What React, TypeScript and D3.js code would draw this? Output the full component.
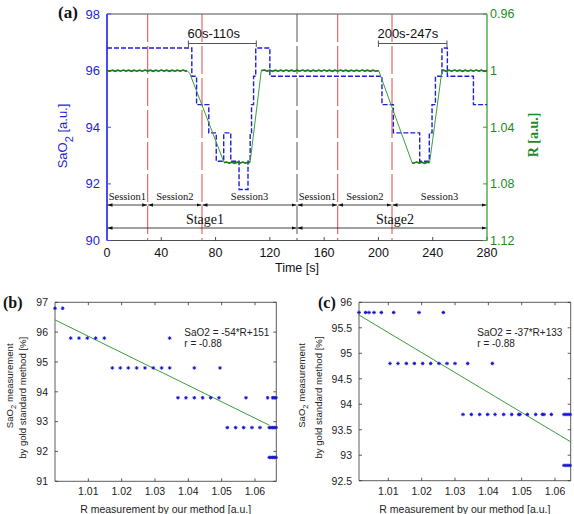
import React from "react";
import * as d3 from "d3";

// ---------- Panel (a) data ----------
const timeTicks = [0, 40, 80, 120, 160, 200, 240, 280];
const saoTicks = [90, 92, 94, 96, 98];
const rTicks = [0.96, 1.0, 1.04, 1.08, 1.12];
const rTickLabels = ["0.96", "1", "1.04", "1.08", "1.12"];

// SaO2 gold standard (step, value holds from t until next t)
const saoSteps: [number, number][] = [
  [0, 96.8], [62.5, 95.8], [66, 94.8], [75, 93.8], [80.5, 92.8], [86, 93.8],
  [91.2, 92.8], [97.3, 91.8], [103.9, 92.8], [105.5, 93.8], [106.5, 94.8],
  [108, 95.8], [109.6, 96.8], [120, 95.8], [202.6, 94.8], [211, 93.8],
  [230.4, 92.8], [237.5, 93.8], [239.5, 94.8], [242, 95.8], [246.8, 96.8],
  [250.8, 95.8], [270, 94.8], [280, 94.8],
];

// R measured by our method: knee points
const rKnots: [number, number][] = [
  [0, 1.0], [59, 1.0], [61, 1.002], [86.3, 1.065], [105.4, 1.065], [113.7, 1.0],
  [200.2, 1.0], [224.8, 1.065], [237.7, 1.065], [246.8, 1.0], [280, 1.0],
];
// small ripple on the flat parts, x1e-4, every 2 s from 0 to 280 s
const rRipple = [
  0, 4, -3, 5, -3, 4, -4, 3, -3, 5, -3, 4, -3, 4, -4, 3, -3, 5, -3, 4, -4, 3, -3, 5, -3, 4, -3, 4, -4, 3,
  -3, 5, -3, 4, -3, 4, -4, 3, -3, 5, -3, 4, -3, 4, -4, 3, -3, 5, -3, 4, -4, 3, -3, 5, -3, 4, -3, 4, -4, 3,
  -3, 5, -3, 4, -3, 4, -4, 3, -3, 5, -3, 4, -4, 3, -3, 5, -3, 4, -3, 4, -4, 3, -3, 5, -3, 4, -4, 3, -3, 5,
  -3, 4, -3, 4, -4, 3, -3, 5, -3, 4, -4, 3, -3, 5, -3, 4, -3, 4, -4, 3, -3, 5, -3, 4, -4, 3, -3, 5, -3, 4,
  -3, 4, -4, 3, -3, 5, -3, 4, -4, 3, -3, 5, -3, 4, -3, 4, -4, 3, -3, 5, 0,
];

const boundaryTimes = [30, 70, 140, 170, 210];
const boundaryKinds = ["session", "session", "stage", "session", "session"];

const sessionLabels = ["Session1", "Session2", "Session3", "Session1", "Session2", "Session3"];
const sessionStarts = [0, 30, 70, 140, 170, 210];
const sessionEnds = [30, 70, 140, 170, 210, 280];
const stageLabels = ["Stage1", "Stage2"];
const stageStarts = [0, 140];
const stageEnds = [140, 280];

const windowLabels = ["60s-110s", "200s-247s"];
const windowStarts = [60, 200];
const windowEnds = [110, 250.5];

// ---------- Panel (b) data ----------
const bLevels = [96.8, 95.8, 94.8, 93.8, 92.8, 91.8];
const bRValues: number[][] = [
  [1.0, 1.0023],
  [1.0047, 1.0072, 1.0097, 1.0122, 1.0148, 1.0344],
  [1.0172, 1.0196, 1.022, 1.0245, 1.027, 1.0295, 1.032, 1.0344, 1.0418, 1.0495],
  [1.0369, 1.0393, 1.0418, 1.0443, 1.0467, 1.0492, 1.0573, 1.0638, 1.0653, 1.0658, 1.0663],
  [1.0517, 1.0542, 1.0566, 1.0591, 1.0615, 1.0643, 1.0648, 1.0653, 1.0658, 1.0663],
  [1.0643, 1.0648, 1.0653, 1.0658, 1.0663],
];
const bFit: [number, number][] = [[1.0, 96.41], [1.0643, 92.88]];
const bXTicks = [1.01, 1.02, 1.03, 1.04, 1.05, 1.06];
const bYTicks = [91, 92, 93, 94, 95, 96, 97];
const bEquation = ["SaO2 = -54*R+151", "r = -0.88"];

// ---------- Panel (c) data ----------
const cLevels = [95.8, 94.8, 93.8, 92.8];
const cRValues: number[][] = [
  [1.0012, 1.0032, 1.0042, 1.0057, 1.0079, 1.0116, 1.0192, 1.0265],
  [1.0105, 1.0129, 1.0154, 1.0178, 1.0203, 1.0227, 1.0252, 1.0276, 1.03, 1.0338, 1.0412],
  [1.0324, 1.0349, 1.0374, 1.0398, 1.042, 1.0446, 1.047, 1.0491, 1.0495, 1.0517, 1.0542,
    1.0562, 1.0567, 1.0589, 1.0627, 1.0633, 1.0639, 1.0645],
  [1.0627, 1.0633, 1.0639, 1.0645],
];
const cFit: [number, number][] = [[1.0012, 95.75], [1.0645, 93.27]];
const cXTicks = [1.01, 1.02, 1.03, 1.04, 1.05, 1.06];
const cYTicks = [92.5, 93, 93.5, 94, 94.5, 95, 95.5, 96];
const cEquation = ["SaO2 = -37*R+133", "r = -0.88"];

// ---------- styles ----------
const SANS = "'Liberation Sans', Arial, Helvetica, sans-serif";
const SERIF = "'Liberation Serif', 'Times New Roman', serif";
const BLUE = "#1f1fd6";
const BLUE_AX = "#4a4af2";
const GREEN = "#1f8a1f";
const GREEN_LINE = "#3a9e3a";
const GREEN_DARK = "#1e7a1e";
const RED = "#e24848";

function Scatter(props: {
  x0: number; x1: number; y0: number; y1: number;
  xDomain: [number, number]; yDomain: [number, number];
  xTicks: number[]; yTicks: number[];
  levels: number[]; rValues: number[][]; fit: [number, number][];
  equation: string[]; eqX: number; tag: string; tagX: number;
  yLabelX1: number; yLabelX2: number;
}) {
  const { x0, x1, y0, y1 } = props;
  const xs = d3.scaleLinear(props.xDomain, [x0, x1]);
  const ys = d3.scaleLinear(props.yDomain, [y1, y0]);
  const pts: [number, number][] = [];
  props.levels.forEach((lv, i) => props.rValues[i].forEach((r) => pts.push([r, lv])));
  const fitLine = d3.line<[number, number]>().x((d) => xs(d[0])).y((d) => ys(d[1]))(props.fit) || "";
  const tl = 3;
  const cy = (y0 + y1) / 2 + 6;
  return (
    <g>
      <line x1={x0} x2={x1} y1={y0} y2={y0} stroke="#333" strokeWidth={0.8} />
      <line x1={x0} x2={x1} y1={y1} y2={y1} stroke="#333" strokeWidth={0.8} />
      <line x1={x0} x2={x0} y1={y0} y2={y1} stroke="#333" strokeWidth={0.8} />
      <line x1={x1} x2={x1} y1={y0} y2={y1} stroke="#333" strokeWidth={0.8} />
      {props.xTicks.map((t) => (
        <g key={"xt" + t}>
          <line x1={xs(t)} x2={xs(t)} y1={y1} y2={y1 - tl} stroke="#333" strokeWidth={0.8} />
          <line x1={xs(t)} x2={xs(t)} y1={y0} y2={y0 + tl} stroke="#333" strokeWidth={0.8} />
          <text x={xs(t)} y={y1 + 14} textAnchor="middle" fontFamily={SANS} fontSize={10.5} fill="#222">
            {d3.format(".2f")(t)}
          </text>
        </g>
      ))}
      {props.yTicks.map((t) => (
        <g key={"yt" + t}>
          <line x1={x0} x2={x0 + tl} y1={ys(t)} y2={ys(t)} stroke="#333" strokeWidth={0.8} />
          <line x1={x1} x2={x1 - tl} y1={ys(t)} y2={ys(t)} stroke="#333" strokeWidth={0.8} />
          <text x={x0 - 7} y={ys(t) + 3.8} textAnchor="end" fontFamily={SANS} fontSize={10.5} fill="#222">
            {String(t)}
          </text>
        </g>
      ))}
      <path d={fitLine} fill="none" stroke={GREEN_LINE} strokeWidth={1} />
      {pts.map((p, i) => {
        const px = xs(p[0]);
        const py = ys(p[1]);
        return (
          <path
            key={"p" + i}
            d={`M${px - 1.8},${py}H${px + 1.8}M${px},${py - 1.8}V${py + 1.8}M${px - 1.2},${py - 1.2}L${px + 1.2},${py + 1.2}M${px - 1.2},${py + 1.2}L${px + 1.2},${py - 1.2}`}
            stroke="#1414d0"
            strokeWidth={1}
          />
        );
      })}
      <text x={props.eqX} y={335.5} fontFamily={SANS} fontSize={10} fill="#222">{props.equation[0]}</text>
      <text x={props.eqX} y={346.5} fontFamily={SANS} fontSize={10} fill="#222">{props.equation[1]}</text>
      <text x={props.tagX} y={307.5} fontFamily={SERIF} fontWeight="bold" fontSize={16} fill="#111">{props.tag}</text>
      <text x={(x0 + x1) / 2} y={513} textAnchor="middle" fontFamily={SANS} fontSize={10.5} fill="#222">
        R measurement by our method [a.u.]
      </text>
      <text transform={`translate(${props.yLabelX1},${cy - 12}) rotate(-90)`} textAnchor="middle" fontFamily={SANS} fontSize={9.6} fill="#222">
        SaO<tspan dy={3} fontSize={7.5}>2</tspan><tspan dy={-3}> measurement</tspan>
      </text>
      <text transform={`translate(${props.yLabelX2},${cy}) rotate(-90)`} textAnchor="middle" fontFamily={SANS} fontSize={9.6} fill="#222">
        by gold standard method [%]
      </text>
    </g>
  );
}

export default function App() {
  // Panel (a) frame
  const L = 107, Rt = 487, T = 14, B = 240.5;
  const xA = d3.scaleLinear([0, 280], [L, Rt]);
  const yL = d3.scaleLinear([90, 98], [B, T]);
  const yR = d3.scaleLinear([0.96, 1.12], [T, B]);

  const stepPath =
    d3.line<[number, number]>().x((d) => xA(d[0])).y((d) => yL(d[1])).curve(d3.curveStepAfter)(saoSteps) || "";

  const greenLine = d3.line<[number, number]>().x((d) => xA(d[0])).y((d) => yR(d[1]));
  const greenPts: [number, number][] = [];
  const flatPaths: string[] = [];
  for (let k = 0; k < rKnots.length - 1; k++) {
    const [t0, r0] = rKnots[k];
    const [t1, r1] = rKnots[k + 1];
    greenPts.push([t0, r0]);
    if (r0 === r1) {
      const seg: [number, number][] = [[t0, r0]];
      for (let t = Math.ceil(t0 / 2) * 2; t < t1 - 0.5; t += 2) {
        if (t > t0 + 0.5) {
          const p: [number, number] = [t, r0 + rRipple[t / 2] * 1e-4];
          greenPts.push(p);
          seg.push(p);
        }
      }
      seg.push([t1, r1]);
      flatPaths.push(greenLine(seg) || "");
    }
  }
  greenPts.push(rKnots[rKnots.length - 1]);
  const greenPath = greenLine(greenPts) || "";

  const sessY = 205, stageY = 228;

  return (
    <svg width={574} height={514} style={{ position: "absolute", left: 0, top: 0, background: "#fff" }}>
      <defs>
        <marker id="ah" viewBox="0 0 10 10" refX={10} refY={5} markerWidth={5} markerHeight={5} orient="auto-start-reverse" markerUnits="userSpaceOnUse">
          <path d="M0,1.5 L10,5 L0,8.5 Z" fill="#111" />
        </marker>
      </defs>
      <rect x={0} y={0} width={574} height={514} fill="#fff" />

      {/* ---------- Panel (a) ---------- */}
      <line x1={L} x2={Rt} y1={T} y2={T} stroke="#222" strokeWidth={0.8} />
      <line x1={L} x2={Rt} y1={B} y2={B} stroke="#222" strokeWidth={0.8} />

      {boundaryTimes.map((t, i) => (
        <line key={"b" + i} x1={xA(t)} x2={xA(t)} y1={T} y2={B}
          stroke={boundaryKinds[i] === "stage" ? "#555" : RED} strokeWidth={1} strokeDasharray="28,4" />
      ))}

      {/* time ticks */}
      {timeTicks.map((t) => (
        <g key={"tt" + t}>
          <line x1={xA(t)} x2={xA(t)} y1={B} y2={B - 3.5} stroke="#222" strokeWidth={0.8} />
          <text x={xA(t)} y={256.5} textAnchor="middle" fontFamily={SANS} fontSize={12.5} fill="#111">{t}</text>
        </g>
      ))}
      <text x={(L + Rt) / 2} y={272} textAnchor="middle" fontFamily={SANS} fontSize={12.5} fill="#111">Time [s]</text>

      {/* left axis */}
      <line x1={L} x2={L} y1={T} y2={B} stroke={BLUE_AX} strokeWidth={2} />
      {saoTicks.map((t) => (
        <g key={"sl" + t}>
          <line x1={L} x2={L + 4} y1={yL(t)} y2={yL(t)} stroke={BLUE_AX} strokeWidth={1} />
          <text x={100} y={yL(t) + 4.5} textAnchor="end" fontFamily={SANS} fontSize={13} fill={BLUE}>{t}</text>
        </g>
      ))}
      <text transform={`translate(67,136) rotate(-90)`} textAnchor="middle" fontFamily={SANS} fontSize={13} fill={BLUE}>
        SaO<tspan dy={6} fontSize={11}>2</tspan><tspan dy={-6}> [a.u.]</tspan>
      </text>

      {/* right axis */}
      <line x1={Rt} x2={Rt} y1={T} y2={B} stroke={GREEN_LINE} strokeWidth={1.3} />
      {rTicks.map((t, i) => (
        <g key={"rr" + t}>
          <line x1={Rt} x2={Rt - 4} y1={yR(t)} y2={yR(t)} stroke={GREEN_LINE} strokeWidth={1} />
          <text x={490} y={yR(t) + 4.3} textAnchor="start" fontFamily={SANS} fontSize={12.5} fill={GREEN}>{rTickLabels[i]}</text>
        </g>
      ))}
      <text transform={`translate(538,135) rotate(-90)`} textAnchor="middle" fontFamily={SERIF} fontWeight="bold" fontSize={14} fill={GREEN}>
        R [a.u.]
      </text>

      {/* data */}
      <path d={stepPath} fill="none" stroke={BLUE} strokeWidth={1.4} strokeDasharray="5,2" />
      <path d={greenPath} fill="none" stroke={GREEN_LINE} strokeWidth={1} />
      {flatPaths.map((d, i) => (
        <path key={"f" + i} d={d} fill="none" stroke={GREEN_DARK} strokeWidth={1.6} />
      ))}

      {/* windows */}
      {windowLabels.map((lab, i) => {
        const a = xA(windowStarts[i]);
        const b = xA(windowEnds[i]);
        return (
          <g key={"w" + i}>
            <line x1={a} x2={b} y1={43.5} y2={43.5} stroke="#555" strokeWidth={1} />
            <line x1={a} x2={a} y1={40.5} y2={47} stroke="#555" strokeWidth={1} />
            <line x1={b} x2={b} y1={40.5} y2={47} stroke="#555" strokeWidth={1} />
            <text x={a - 1} y={38.3} fontFamily={SANS} fontSize={13} fill="#111">{lab}</text>
          </g>
        );
      })}

      {/* sessions and stages */}
      {sessionLabels.map((lab, i) => {
        const a = xA(sessionStarts[i]);
        const b = xA(sessionEnds[i]);
        return (
          <g key={"s" + i}>
            <line x1={a + 0.5} x2={b - 0.5} y1={sessY} y2={sessY} stroke="#111" strokeWidth={0.8}
              markerStart="url(#ah)" markerEnd="url(#ah)" />
            <text x={(a + b) / 2} y={200} textAnchor="middle" fontFamily={SERIF} fontSize={10.5} fill="#111">{lab}</text>
          </g>
        );
      })}
      {stageLabels.map((lab, i) => {
        const a = xA(stageStarts[i]);
        const b = xA(stageEnds[i]);
        return (
          <g key={"st" + i}>
            <line x1={a + 0.5} x2={b - 0.5} y1={stageY} y2={stageY} stroke="#111" strokeWidth={0.8}
              markerStart="url(#ah)" markerEnd="url(#ah)" />
            <text x={(a + b) / 2 + 3} y={223.5} textAnchor="middle" fontFamily={SERIF} fontSize={14} fill="#111">{lab}</text>
          </g>
        );
      })}

      <text x={58} y={18} fontFamily={SERIF} fontWeight="bold" fontSize={17} fill="#111">(a)</text>

      {/* ---------- Panel (b) ---------- */}
      <Scatter x0={55} x1={276.3} y0={302.3} y1={481.3} xDomain={[1.0, 1.0664]} yDomain={[91, 97]}
        xTicks={bXTicks} yTicks={bYTicks} levels={bLevels} rValues={bRValues} fit={bFit}
        equation={bEquation} eqX={184.3} tag="(b)" tagX={3} yLabelX1={13} yLabelX2={26} />

      {/* ---------- Panel (c) ---------- */}
      <Scatter x0={359} x1={570.7} y0={302.3} y1={480.7} xDomain={[1.0012, 1.0647]} yDomain={[92.5, 96]}
        xTicks={cXTicks} yTicks={cYTicks} levels={cLevels} rValues={cRValues} fit={cFit}
        equation={cEquation} eqX={477.3} tag="(c)" tagX={318} yLabelX1={305} yLabelX2={322} />
    </svg>
  );
}
